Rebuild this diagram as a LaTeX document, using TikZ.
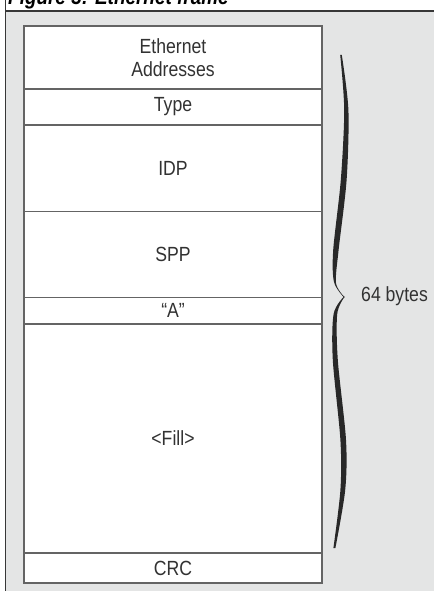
\documentclass[tikz,border=0pt]{standalone}
\usepackage{fontspec}
\setmainfont{Liberation Sans}[FakeStretch=0.86]
\definecolor{panel}{RGB}{228,229,229}
\definecolor{boxc}{RGB}{100,100,100}
\definecolor{txt}{RGB}{50,50,50}
\definecolor{bracec}{RGB}{40,40,40}
\definecolor{framec}{RGB}{55,55,55}
\begin{document}
\begin{tikzpicture}[x=1pt,y=-1pt,
  field/.style={draw=boxc, line width=1.1pt, fill=white, minimum width=298pt,
    inner sep=0pt, outer sep=0pt, text=txt, align=center,
    font=\fontsize{20.5}{23}\selectfont},
  sidelabel/.style={text=txt, inner sep=0pt, anchor=west,
    font=\fontsize{20.5}{23}\selectfont},
  titletext/.style={text=black, inner sep=0pt, anchor=base west,
    font=\fontsize{22}{26}\selectfont\bfseries\itshape}]
\useasboundingbox (0,0) rectangle (434,591);
\clip (0,0) rectangle (434,591);
% panel
\fill[white] (0,0) rectangle (434,591);
\fill[panel] (6,12) rectangle (434,591);
\node[titletext] (title) at (8,5) {Figure 3: Ethernet frame};
\draw[framec, line width=1.6pt] (5.5,0) -- (5.5,591);
\draw[framec, line width=2pt] (5,11.5) -- (434,11.5);
% fields
\node[field, minimum height=63pt]   (eth)  at (173,57.5)   {Ethernet\\Addresses};
\node[field, minimum height=36pt]   (type) at (173,107)    {Type};
\node[field, minimum height=86.5pt] (idp)  at (173,168.25) {IDP};
\node[field, minimum height=86pt]   (spp)  at (173,254.5)  {SPP};
\node[field, minimum height=26.5pt] (a)    at (173,310.75) {“A”};
\node[field, minimum height=229pt]  (fill) at (173,438.5)  {<Fill>};
\node[field, minimum height=30pt]   (crc)  at (173,568)    {CRC};
% brace
\coordinate (tip) at (344,297);
\fill[bracec] plot[smooth] coordinates {(341.8,55) (348.4,110) (346.6,180) (338.6,250) (336,283) (344.5,297)}
  -- plot[smooth] coordinates {(344,297.5) (334,282) (333.2,250) (340.8,180) (344.2,110) (340.2,55)} -- cycle;
\fill[bracec] plot[smooth] coordinates {(344.5,297) (337.2,314) (337.8,360) (346,440) (345.2,490) (335.4,548)}
  -- plot[smooth] coordinates {(333.4,548) (340.4,490) (340.4,440) (332.8,360) (333.6,314) (344,296.5)} -- cycle;
\node[sidelabel] (bytes) at (361,296) {64 bytes};
\end{tikzpicture}
\end{document}
